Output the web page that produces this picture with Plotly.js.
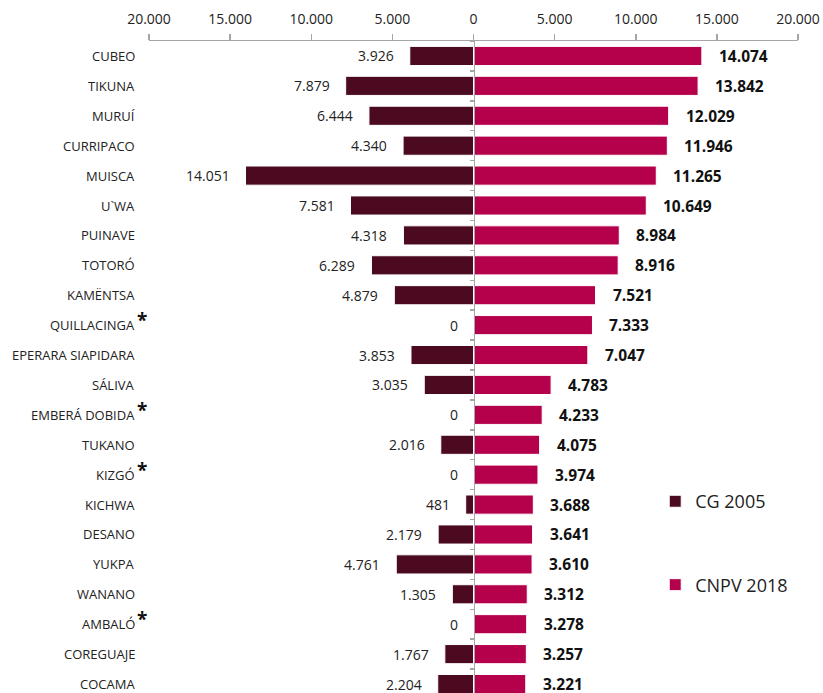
<!DOCTYPE html>
<html><head><meta charset="utf-8">
<script src="https://cdn.plot.ly/plotly-3.0.1.min.js"></script>
<style>html,body{margin:0;padding:0;background:#fff}#chart{width:823px;height:693px}</style>
</head><body><div id="chart"></div>
<script>
const categories = ["CUBEO","TIKUNA","MURUÍ","CURRIPACO","MUISCA","U`WA","PUINAVE","TOTORÓ","KAMËNTSA","QUILLACINGA","EPERARA SIAPIDARA","SÁLIVA","EMBERÁ DOBIDA","TUKANO","KIZGÓ","KICHWA","DESANO","YUKPA","WANANO","AMBALÓ","COREGUAJE","COCAMA"];
const cg2005 = [3926,7879,6444,4340,14051,7581,4318,6289,4879,0,3853,3035,0,2016,0,481,2179,4761,1305,0,1767,2204];
const cnpv2018 = [14074,13842,12029,11946,11265,10649,8984,8916,7521,7333,7047,4783,4233,4075,3974,3688,3641,3610,3312,3278,3257,3221];
const starred = [false,false,false,false,false,false,false,false,false,true,false,false,true,false,true,false,false,false,false,true,false,false];
const tickValues = [-20000,-15000,-10000,-5000,0,5000,10000,15000,20000];
const tickLabels = ["20.000","15.000","10.000","5.000","0","5.000","10.000","15.000","20.000"];

const fmt = v => v.toString().replace(/\B(?=(\d{3})+(?!\d))/g, ".");
const FONT = "Open Sans, sans-serif";
const DARK = "#4b0a20", RED = "#b5004b", AX = "#a6a6a6";

const traces = [
  {type:"bar", orientation:"h", name:"CG 2005", y:categories, x:cg2005.map(v=>-v),
   marker:{color:DARK, line:{color:"#ffffff", width:1}}, width:0.64, legendgroup:"a", hoverinfo:"skip"},
  {type:"bar", orientation:"h", name:"CNPV 2018", y:categories, x:cnpv2018,
   marker:{color:RED, line:{color:"#ffffff", width:1}}, width:0.64, legendgroup:"b", hoverinfo:"skip"}
];

const ann = [];
categories.forEach((c,i)=>{
  ann.push({xref:"paper", yref:"y", x:0, y:c, xshift:-12, xanchor:"right", yanchor:"middle",
    text:c, showarrow:false, font:{family:FONT, size:13, color:"#222"}});
  if (starred[i]) ann.push({xref:"paper", yref:"y", x:0, y:c, xshift:-14, yshift:5, xanchor:"left", yanchor:"middle",
    text:"<b>*</b>", showarrow:false, font:{family:FONT, size:19, color:"#111"}});
  ann.push({xref:"x", yref:"y", x:-cg2005[i], y:c, xshift:-14, xanchor:"right", yanchor:"middle",
    text:fmt(cg2005[i]), showarrow:false, font:{family:FONT, size:14, color:"#222"}});
  ann.push({xref:"x", yref:"y", x:cnpv2018[i], y:c, xshift:15, xanchor:"left", yanchor:"middle",
    text:"<b>"+fmt(cnpv2018[i])+"</b>", showarrow:false, font:{family:FONT, size:15.5, color:"#111"}});
});

const layout = {
  width:823, height:693, margin:{l:149, r:25, t:41, b:0},
  paper_bgcolor:"#fff", plot_bgcolor:"#fff",
  barmode:"relative", bargap:0.36,
  font:{family:FONT, color:"#222"},
  xaxis:{side:"top", range:[-20000,20000], tickvals:tickValues, ticktext:tickLabels,
    showline:true, linecolor:AX, linewidth:1.5, ticks:"outside", ticklen:6, tickcolor:AX, tickwidth:1.5,
    ticklabelstandoff:4,
    showgrid:false, zeroline:false, tickfont:{family:FONT, size:14, color:"#222"}, fixedrange:true},
  yaxis:{type:"category", autorange:false, range:[21.3,-0.5], anchor:"free", position:0.5,
    showline:true, linecolor:AX, linewidth:1.5, ticks:"outside", tickson:"boundaries", ticklen:4,
    tickcolor:AX, tickwidth:1.5, showticklabels:false, showgrid:false, zeroline:false},
  legend:{x:0.78, y:0.322, xanchor:"left", yanchor:"top", tracegroupgap:57, itemwidth:30,
    font:{family:FONT, size:18, color:"#222"}, bgcolor:"rgba(0,0,0,0)"},
  annotations:ann, showlegend:true
};
Plotly.newPlot("chart", traces, layout, {displayModeBar:false, staticPlot:true});
</script></body></html>
